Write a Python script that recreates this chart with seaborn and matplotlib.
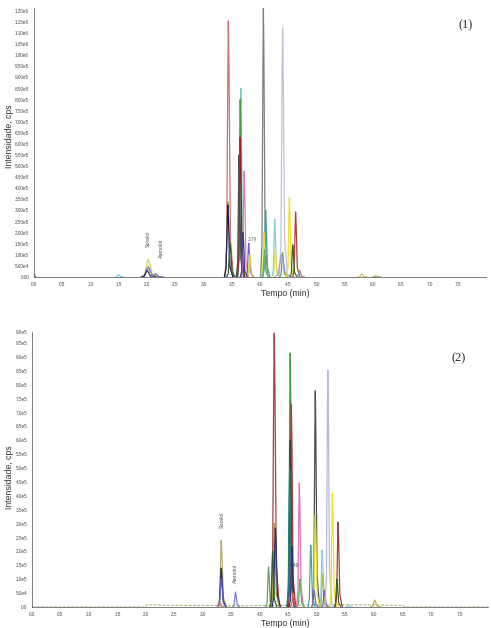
import numpy as np
import pandas as pd
import matplotlib.pyplot as plt
import matplotlib.ticker as mticker
import seaborn as sns

# ---- dados lidos do cromatograma (tempo em min, intensidade em cps) ----
# painel (1)
p1_rt = [0.00, 1.50, 2.02, 2.02, 2.02, 2.00, 2.15,
         3.44, 3.43, 3.43, 3.47, 3.66, 3.65, 3.65, 3.63, 3.72, 3.80, 3.82, 3.70,
         4.06, 4.10, 4.07, 4.08, 4.26, 4.27, 4.40, 4.40, 4.38,
         4.52, 4.63, 4.58, 4.70, 5.80, 6.05]
p1_alt = [1.5e4, 1.0e4, 8.0e4, 4.8e4, 4.0e4, 3.0e4, 1.5e4,
          1.155e6, 3.4e5, 3.25e5, 1.5e5, 8.5e5, 8.0e5, 6.3e5, 5.5e5, 4.78e5, 1.53e5, 1.0e5, 2.0e5,
          1.215e6, 3.0e5, 2.0e5, 1.2e5, 2.6e5, 1.2e5, 1.123e6, 1.1e5, 1.0e5,
          3.6e5, 2.93e5, 1.45e5, 3.0e4, 1.4e4, 6.0e3]
p1_larg = [0.02, 0.06, 0.13, 0.12, 0.12, 0.10, 0.10,
           0.06, 0.06, 0.06, 0.06, 0.05, 0.05, 0.05, 0.05, 0.05, 0.05, 0.05, 0.05,
           0.05, 0.05, 0.05, 0.05, 0.05, 0.05, 0.06, 0.05, 0.12,
           0.05, 0.05, 0.05, 0.06, 0.06, 0.06]
p1_cores = ['#1f1f7a', '#7fd0e0', '#d8d060', '#9090d0', '#909090', '#303080', '#7070b0',
            '#d07070', '#b0a040', '#202060', '#306030', '#80c8c0', '#40a040', '#a02020', '#505050',
            '#e080c0', '#8060c0', '#e0d040', '#404090',
            '#808080', '#40a0a0', '#e0e040', '#60b060', '#80d0e0', '#e8e050', '#c0c0d8', '#60a060',
            '#a0a0e0', '#f0e030', '#b04040', '#406030', '#909090', '#d0c060', '#b0a050']

# painel (2)
p2_rt = [3.32, 3.32, 3.32, 3.30, 3.57,
         4.15, 4.25, 4.25, 4.27, 4.22,
         4.53, 4.55, 4.53, 4.52, 4.56, 4.69, 4.70, 4.58,
         4.89, 4.97, 4.97, 4.95, 5.09, 5.10, 5.13, 5.19, 5.27, 5.37, 5.35,
         5.55, 6.01]
p2_alt = [2.41e5, 1.40e5, 1.0e5, 1.5e4, 5.4e4,
          1.44e5, 9.86e5, 3.0e5, 2.84e5, 2.0e5,
          9.14e5, 7.3e5, 6.0e5, 5.0e5, 2.2e5, 4.46e5, 1.0e5, 5.0e4,
          2.23e5, 7.78e5, 3.3e5, 6.0e4, 2.05e5, 1.2e5, 6.0e4, 8.53e5, 4.1e5, 3.06e5, 1.0e5,
          8.0e3, 2.5e4]
p2_larg = [0.06, 0.06, 0.06, 0.05, 0.05,
           0.05, 0.06, 0.06, 0.06, 0.05,
           0.05, 0.05, 0.05, 0.05, 0.05, 0.05, 0.05, 0.05,
           0.05, 0.05, 0.05, 0.05, 0.05, 0.05, 0.05, 0.05, 0.05, 0.05, 0.05,
           0.05, 0.07]
p2_cores = ['#b8b070', '#303060', '#6060c0', '#e07070', '#8080d0',
            '#60a060', '#b04040', '#a0a040', '#303070', '#306030',
            '#40a040', '#c03030', '#404040', '#208080', '#303080', '#e070b0', '#60b060', '#e06060',
            '#50a0a0', '#505050', '#e0e040', '#8060c0', '#90d0e0', '#a0c040', '#8050b0',
            '#b8b8d8', '#f0e020', '#a04040', '#406030',
            '#90d0e0', '#c0b050']

# linha de base do painel (2)
base2_t = [0.0, 1.98, 2.02, 2.5, 3.0, 3.2, 3.8, 4.0, 5.5, 6.5, 6.55, 8.0]
base2_i = [0.0, 0.0, 8e3, 6e3, 6e3, 5e3, 4e3, 5e3, 8e3, 6e3, 0.0, 0.0]

# formato do pico (fração da largura / fração da altura)
forma_x = np.array([-1.0, -0.5, -0.15, 0.0, 0.2, 0.6, 1.5])
forma_y = np.array([0.0, 0.12, 0.8, 1.0, 0.8, 0.15, 0.0])


def monta_df(rts, alts, largs):
    linhas = []
    for k, (rt, h, w) in enumerate(zip(rts, alts, largs)):
        for fx, fy in zip(forma_x, forma_y):
            linhas.append({'pico': f'p{k}', 'Tempo': rt + fx * w, 'Int': h * fy})
    return pd.DataFrame(linhas)


def eixo(ax, ymax, yticks, fmt, minor, ylab_x, ylab_y):
    ax.set_xlim(0, 8.0)
    ax.set_ylim(0, ymax)
    ax.set_yticks(yticks)
    ax.yaxis.set_major_formatter(mticker.FuncFormatter(fmt))
    ax.yaxis.set_minor_locator(mticker.MultipleLocator(minor))
    ax.set_xticks(np.arange(0, 7.6, 0.5))
    ax.xaxis.set_major_formatter(mticker.FormatStrFormatter('%.1f'))
    ax.xaxis.set_minor_locator(mticker.MultipleLocator(0.1))
    ax.tick_params(axis='both', which='major', labelsize=3.3, length=2.5, width=0.5,
                   pad=1, colors='#555555', labelcolor='#444444')
    ax.tick_params(axis='both', which='minor', length=1.3, width=0.4, colors='#555555')
    for s in ['left', 'bottom']:
        ax.spines[s].set_linewidth(0.6)
        ax.spines[s].set_color('#666666')
    sns.despine(ax=ax)
    ax.set_ylabel('Intensidade, cps', fontsize=6.3, color='#333333')
    ax.yaxis.set_label_coords(ylab_x, ylab_y)
    ax.set_xlabel('Tempo (min)', fontsize=6.3, color='#333333')
    ax.xaxis.set_label_coords(0.555, -0.045)


sns.set_style('white')
plt.rcParams['font.family'] = ['Liberation Sans', 'DejaVu Sans']

fig = plt.figure(figsize=(4.91, 6.28), dpi=100)
ax1 = fig.add_axes([34 / 491, 1 - 277 / 628, 452 / 491, 269 / 628])
ax2 = fig.add_axes([32 / 491, 1 - 607 / 628, 456 / 491, 275 / 628])

# painel 1
ax1.plot([0, 8], [1.5e3, 1.5e3], color='#70b0a0', lw=0.7, ls=(0, (3, 1.5)))
df1 = monta_df(p1_rt, p1_alt, p1_larg)
sns.lineplot(data=df1, x='Tempo', y='Int', hue='pico',
             palette=dict(zip([f'p{k}' for k in range(len(p1_rt))], p1_cores)),
             estimator=None, sort=False, legend=False, lw=0.9, ax=ax1)
eixo(ax1, 1.213e6, np.arange(0, 1.2e6 + 1, 5e4),
     lambda v, p: '0.00' if v == 0 else f'{v:.2e}'.replace('e+0', 'e'), 1e4,
     -0.044, 0.524)
ax1.text(2.03, 1.35e5, 'Sotalol', rotation=90, fontsize=3.8, color='#555555',
         ha='center', va='bottom')
ax1.text(2.26, 0.85e5, 'Atenolol', rotation=90, fontsize=3.8, color='#555555',
         ha='center', va='bottom')
ax1.text(3.78, 1.6e5, '3.79', fontsize=3.3, color='#666666', ha='left', va='bottom')
ax1.text(0.955, 0.935, '(1)', transform=ax1.transAxes, fontsize=9,
         family=['Liberation Serif', 'DejaVu Serif'], ha='center', va='center')

# painel 2
ax2.plot(base2_t, base2_i, color='#90b070', lw=0.7, ls=(0, (3, 1.5)))
df2 = monta_df(p2_rt, p2_alt, p2_larg)
sns.lineplot(data=df2, x='Tempo', y='Int', hue='pico',
             palette=dict(zip([f'p{k}' for k in range(len(p2_rt))], p2_cores)),
             estimator=None, sort=False, legend=False, lw=0.9, ax=ax2)
yt2 = list(np.arange(0, 9.5e5 + 1, 5e4)) + [9.9e5]
eixo(ax2, 9.9e5, yt2,
     lambda v, p: '0.0' if v == 0 else f'{v:.1e}'.replace('e+0', 'e'), 1e4,
     -0.040, 0.473)
ax2.text(3.33, 2.85e5, 'Sotalol', rotation=90, fontsize=3.8, color='#555555',
         ha='center', va='bottom')
ax2.text(3.57, 0.88e5, 'Atenolol', rotation=90, fontsize=3.8, color='#555555',
         ha='center', va='bottom')
ax2.text(4.52, 1.4e5, '4.49', fontsize=3.3, color='#444444', ha='left', va='bottom')
ax2.text(0.935, 0.905, '(2)', transform=ax2.transAxes, fontsize=9,
         family=['Liberation Serif', 'DejaVu Serif'], ha='center', va='center')

fig.savefig('out.png', dpi=100)
